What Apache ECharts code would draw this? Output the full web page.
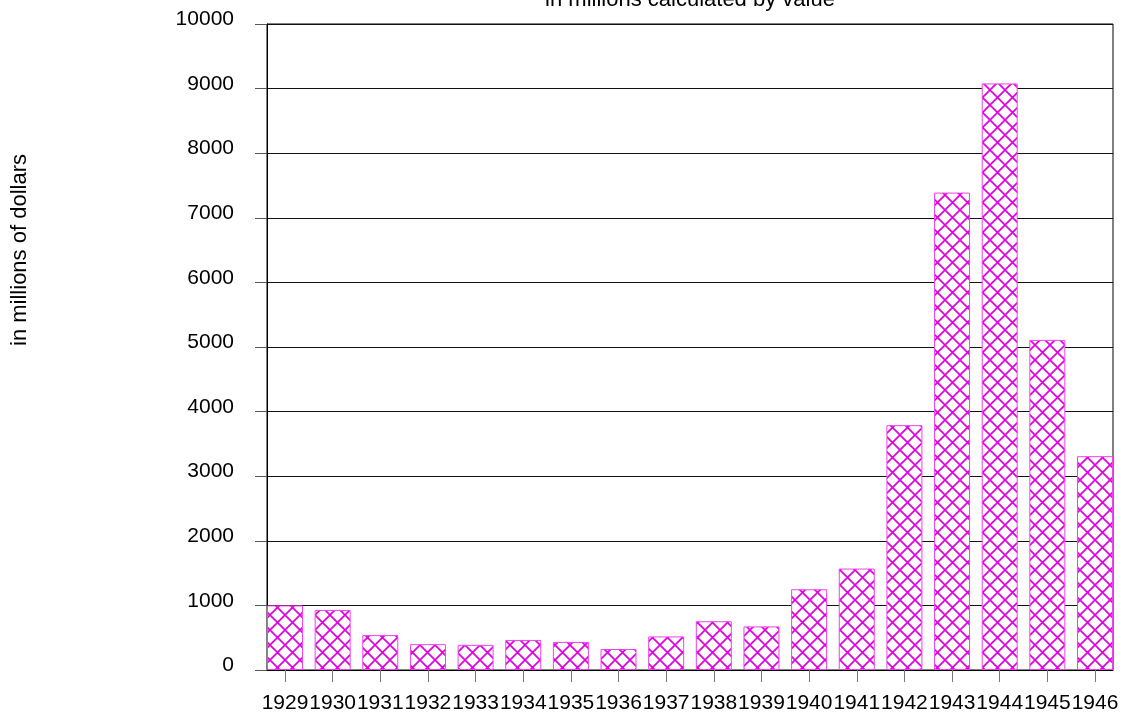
<!DOCTYPE html>
<html>
<head>
<meta charset="utf-8">
<script src="https://cdn.jsdelivr.net/npm/echarts@6/dist/echarts.min.js"></script>
<style>
  html, body { margin: 0; padding: 0; background: #fff; }
  #main { width: 1127px; height: 721px; }
</style>
</head>
<body>
<div id="main"></div>
<script>
// data
var years = [1929, 1930, 1931, 1932, 1933, 1934, 1935, 1936, 1937, 1938, 1939, 1940, 1941, 1942, 1943, 1944, 1945, 1946];
var values = [1000, 930, 540, 400, 390, 465, 435, 325, 520, 755, 675, 1250, 1570, 3790, 7390, 9080, 5110, 3310];
var yTicks = [0, 1000, 2000, 3000, 4000, 5000, 6000, 7000, 8000, 9000, 10000];

var titleText = 'in millions calculated by value';
var yName = 'in millions of dollars';

// cross-hatch tile
function hatch() {
	var c = document.createElement('canvas');
	c.width = 15;
	c.height = 15;
	var ctx = c.getContext('2d');
	ctx.fillStyle = '#fff';
	ctx.fillRect(0, 0, 15, 15);
	ctx.strokeStyle = '#e000e0';
	ctx.lineWidth = 1.7;
	ctx.beginPath();
	ctx.moveTo(0, 0); ctx.lineTo(15, 15);
	ctx.moveTo(15, 0); ctx.lineTo(0, 15);
	ctx.stroke();
	return c;
}

var myChart = echarts.init(document.getElementById('main'));

// half a bar plus a bit on both sides of the first/last year
var pad = 18 / 47.65;

var data = years.map(function(y, i) { return [y, values[i]]; });

option = {
	backgroundColor: '#fff',
	animation: false,
	textStyle: { fontFamily: 'Liberation Sans, Arial, sans-serif' },
	grid: {
		left: 267, right: 14, top: 24, bottom: 51,
		show: true, borderColor: '#000', borderWidth: 1
	},
	graphic: [{
		type: 'text',
		x: 690, y: 11,
		style: {
			text: titleText,
			fill: '#000', font: '22px "Liberation Sans", Arial, sans-serif',
			align: 'center', verticalAlign: 'bottom'
		}
	}, {
		type: 'text',
		x: 20, y: 250,
		rotation: Math.PI / 2,
		style: {
			text: yName,
			fill: '#000', font: '22px "Liberation Sans", Arial, sans-serif',
			align: 'center', verticalAlign: 'middle'
		}
	}],
	xAxis: {
		type: 'value',
		min: 1929 - pad,
		max: 1946 + pad,
		splitLine: { show: false },
		axisLine: { show: true, lineStyle: { color: '#000' } },
		axisTick: {
			show: true, length: 12, customValues: years,
			lineStyle: { color: '#777' }
		},
		axisLabel: {
			customValues: years,
			color: '#000', fontSize: 21, margin: 23,
			formatter: function(v) { return String(v); }
		}
	},
	yAxis: {
		type: 'value',
		min: 0, max: 10000, interval: 1000,
		axisLine: { show: true, lineStyle: { color: '#000' } },
		axisTick: { show: true, length: 12, lineStyle: { color: '#555' } },
		splitLine: { show: true, lineStyle: { color: '#111' } },
		axisLabel: {
			color: '#000', fontSize: 21, margin: 33,
			verticalAlign: 'bottom', lineHeight: 9,
			customValues: yTicks,
			formatter: function(v) { return String(v); }
		}
	},
	series: [{
		type: 'bar',
		data: data,
		barWidth: 36,
		itemStyle: {
			color: { image: hatch(), repeat: 'repeat' },
			borderColor: '#f040f0',
			borderWidth: 1
		}
	}]
};

myChart.setOption(option);
</script>
</body>
</html>
